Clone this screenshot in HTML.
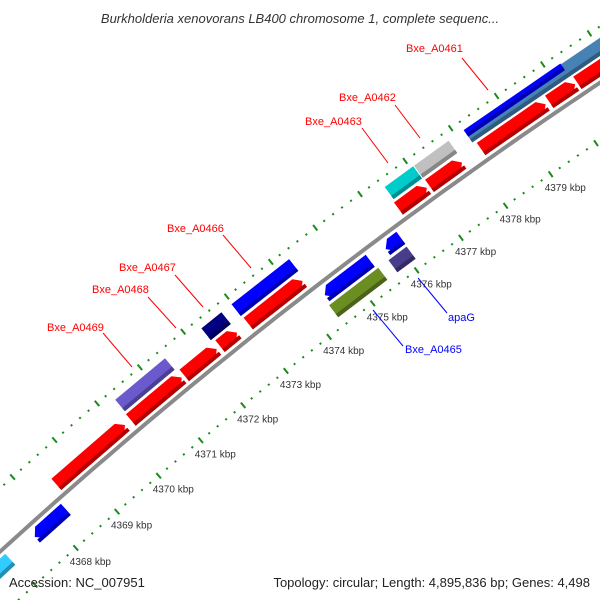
<!DOCTYPE html>
<html><head><meta charset="utf-8"><style>
html,body{margin:0;padding:0;background:#fff;overflow:hidden;}
svg{display:block;font-family:"Liberation Sans",sans-serif;}
</style></head><body>
<svg id="chart" width="600" height="600" viewBox="0 0 600 600" xmlns="http://www.w3.org/2000/svg">
<rect width="600" height="600" fill="#fff"/>
<g id="rings"></g>
<path id="backbone" fill="none" stroke="#8a8a8a" stroke-width="4"/>
<g id="genes"></g>
<g id="ticklabels"></g>
<g font-size="11">
<line x1="462" y1="58" x2="488" y2="90" stroke="#f00" stroke-width="1"/>
<text x="406" y="52" fill="#f00">Bxe_A0461</text>
<line x1="395" y1="105" x2="420" y2="138" stroke="#f00" stroke-width="1"/>
<text x="339" y="101" fill="#f00">Bxe_A0462</text>
<line x1="362" y1="128" x2="388" y2="163" stroke="#f00" stroke-width="1"/>
<text x="305" y="125" fill="#f00">Bxe_A0463</text>
<line x1="223" y1="235" x2="251" y2="268" stroke="#f00" stroke-width="1"/>
<text x="167" y="232" fill="#f00">Bxe_A0466</text>
<line x1="175" y1="275" x2="203" y2="307" stroke="#f00" stroke-width="1"/>
<text x="119" y="271" fill="#f00">Bxe_A0467</text>
<line x1="148" y1="297" x2="176" y2="328" stroke="#f00" stroke-width="1"/>
<text x="92" y="293" fill="#f00">Bxe_A0468</text>
<line x1="103" y1="333" x2="132" y2="367" stroke="#f00" stroke-width="1"/>
<text x="47" y="331" fill="#f00">Bxe_A0469</text>
<line x1="418" y1="278" x2="447" y2="313" stroke="#00f" stroke-width="1"/>
<text x="448" y="321" fill="#00f">apaG</text>
<line x1="373" y1="310" x2="403" y2="346" stroke="#00f" stroke-width="1"/>
<text x="405" y="353" fill="#00f">Bxe_A0465</text>
</g>
<text x="300" y="23" text-anchor="middle" font-size="13" font-style="italic" fill="#333">Burkholderia xenovorans LB400 chromosome 1, complete sequenc...</text>
<text x="9" y="587" font-size="13" fill="#222">Accession: NC_007951</text>
<text x="590" y="587" text-anchor="end" font-size="13" fill="#222">Topology: circular; Length: 4,895,836 bp; Genes: 4,498</text>
</svg>
<script>
// data (kbp)
const tickKbp = [4368,4369,4370,4371,4372,4373,4374,4375,4376,4377,4378,4379];
const tickLabels = ["4368 kbp","4369 kbp","4370 kbp","4371 kbp","4372 kbp","4373 kbp","4374 kbp","4375 kbp","4376 kbp","4377 kbp","4378 kbp","4379 kbp"];
const geneNames = ["red-1","red-2","red-3","red-4","red-5","red-6","red-7","red-8","red-9","red-10","bxe-a0469","bxe-a0467","bxe-a0466","bxe-a0463","bxe-a0462","bxe-a0461-b","bxe-a0461","bxe-a0465-rev","apag","rev-blue-4368","rev-cyan-4367","bxe-a0465","rev-slate-4376"];
const geneStart = [4368.50,4370.27,4371.52,4372.35,4373.00,4376.40,4377.09,4378.23,4379.72,4380.33,4370.29,4372.29,4372.98,4376.43,4377.08,4378.17,4378.17,4374.40,4375.78,4367.58,4366.0,4374.35,4375.70];
const geneEnd   = [4370.13,4371.46,4372.27,4372.74,4374.24,4377.03,4377.81,4379.64,4380.28,4381.6,4371.45,4372.75,4374.29,4377.06,4377.84,4381.6,4380.27,4375.43,4376.12,4368.33,4366.98,4375.47,4376.11];
const geneTrack = [1,1,1,1,1,1,1,1,1,1,2,2,2,2,2,2,2,-1,-1,-1,-1,-2,-2];
const geneDir   = [1,1,1,1,1,1,1,1,1,1,0,0,0,0,0,0,0,-1,-1,-1,0,0,0];
const geneColor = ["#f00","#f00","#f00","#f00","#f00","#f00","#f00","#f00","#f00","#f00","#6a5acd","#000080","#0000ff","#00cccc","#c0c0c0","#4682b4","#0000ff","#0000ff","#0000ff","#0000ff","#33ccff","#6b8e23","#483d8b"];

const NS='http://www.w3.org/2000/svg';
const CX=3356, CY=4227, R0=4977;
function ang(k){ return (228.28 + 0.639*(k-4368))*Math.PI/180; }
function pt(k,r){ const a=ang(k); return [CX+r*Math.cos(a), CY+r*Math.sin(a)]; }
function el(tag,attrs,parent){ const e=document.createElementNS(NS,tag); for(const k in attrs) e.setAttribute(k,attrs[k]); parent.appendChild(e); return e; }
function shade(hex,f){ let h=hex.replace('#',''); if(h.length===3) h=h.split('').map(c=>c+c).join('');
  const n=[0,2,4].map(i=>Math.round(parseInt(h.substr(i,2),16)*f)); return 'rgb('+n.join(',')+')'; }

(function(){ let d=''; for(let k=4365;k<=4382;k+=0.25){ const p=pt(k,R0); d+=(d?'L':'M')+p[0].toFixed(1)+' '+p[1].toFixed(1); }
  document.getElementById('backbone').setAttribute('d',d); })();

const rings=document.getElementById('rings');
[R0+47, R0-48].forEach((r,ri)=>{
  for(let i=4365*5;i<=4382*5;i++){ const k=i/5; const major=(i%5===0);
    const a=pt(k,r-(major?3.5:1)), b=pt(k,r+(major?3.5:1));
    const ln=el('line',{x1:a[0],y1:a[1],x2:b[0],y2:b[1],stroke:'#1a8a1a','stroke-width':2},rings);
    
    
  }
});
const tl=document.getElementById('ticklabels');
tickKbp.forEach((k,i)=>{ const p=pt(k,R0-48);
  const t=el('text',{x:(p[0]-6).toFixed(1),y:(p[1]+17).toFixed(1),'font-size':'10',fill:'#333'},tl);
  
  
  t.textContent=tickLabels[i]; });

const g=document.getElementById('genes');
function shape(k0,k1,rin,rout,dir){
  const h=7/55, rm=(rin+rout)/2; let pts=[];
  if(dir===1){ pts=[pt(k0,rin),pt(k0,rout),pt(k1-h,rout),pt(k1,rm),pt(k1-h,rin)]; }
  else if(dir===-1){ pts=[pt(k0,rm),pt(k0+h,rout),pt(k1,rout),pt(k1,rin),pt(k0+h,rin)]; }
  else { pts=[pt(k0,rin),pt(k0,rout),pt(k1,rout),pt(k1,rin)]; }
  return pts.map(p=>p[0].toFixed(1)+','+p[1].toFixed(1)).join(' ');
}
geneStart.forEach((s,i)=>{
  const tr=geneTrack[i]; let rin,rout;
  if(tr===1){rin=R0+5;rout=R0+20;} else if(tr===2){rin=R0+23;rout=R0+38;}
  else if(tr===-1){rin=R0-20;rout=R0-5;} else {rin=R0-38;rout=R0-23;}
  if(geneNames[i]==='bxe-a0461'){ rin=R0+30; }
  const grp=el('g',{},g);
  
  
  el('polygon',{points:shape(s,geneEnd[i],rin,rout,geneDir[i]),fill:geneColor[i]},grp);
  el('polygon',{points:shape(s,geneEnd[i],rin,rin+4,0),fill:shade(geneColor[i],0.7)},grp);
});
</script>
</body></html>
